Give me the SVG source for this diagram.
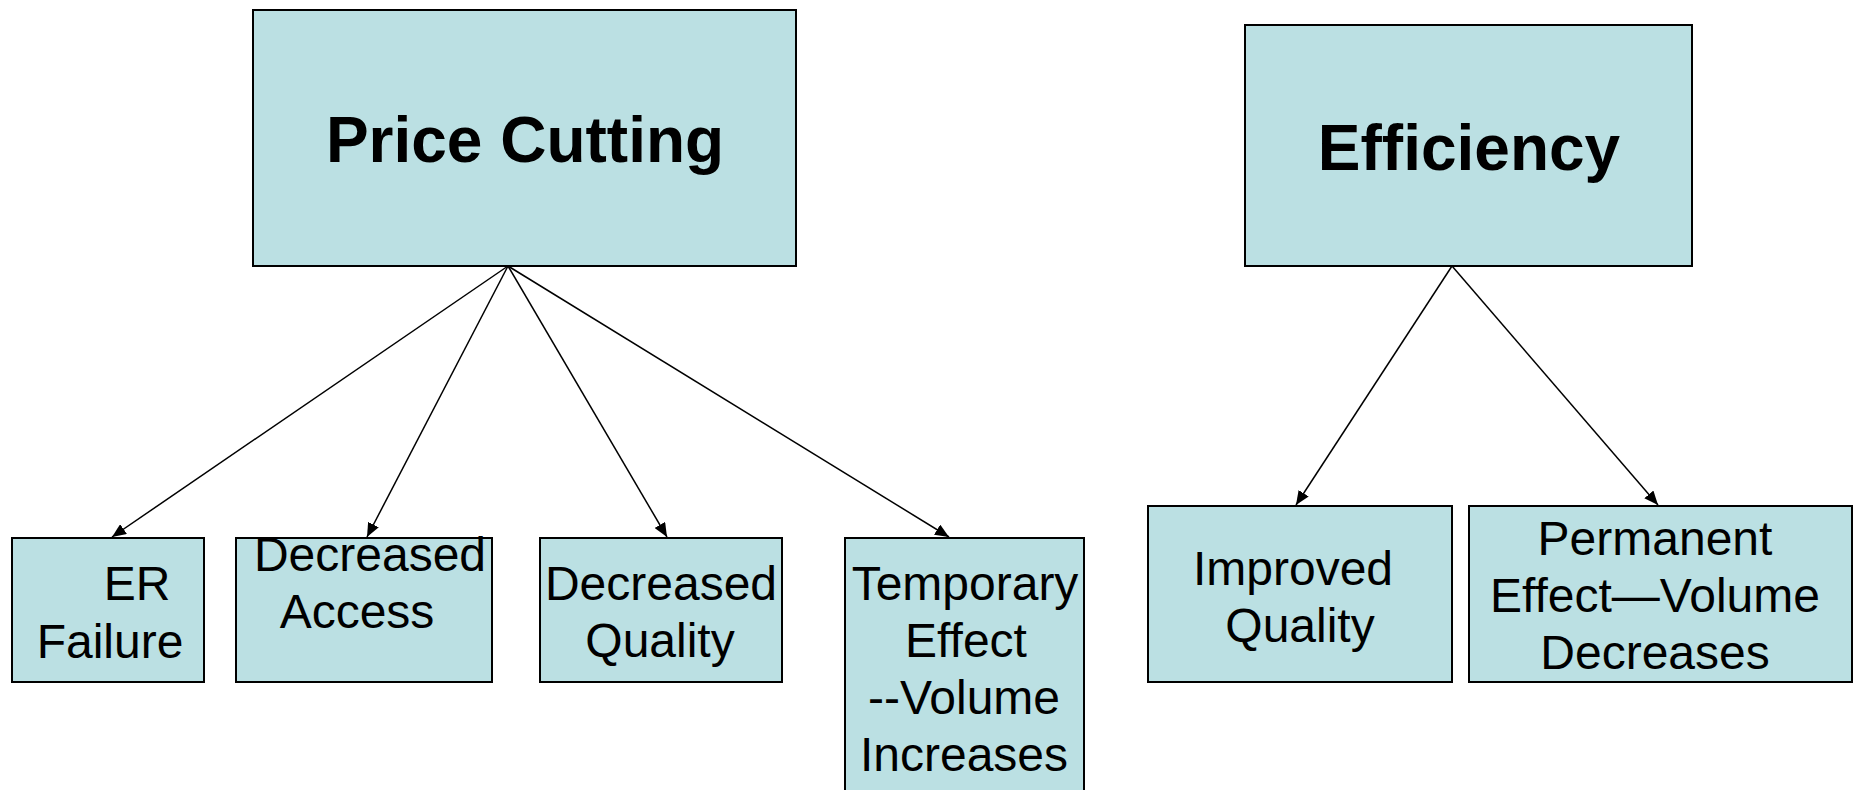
<svg xmlns="http://www.w3.org/2000/svg" width="1858" height="790" viewBox="0 0 1858 790">
<style>
.box{fill:#BBE0E3;stroke:#000;stroke-width:2}
.t{font-family:"Liberation Sans",Arial,sans-serif;font-size:48px;fill:#000;text-anchor:middle}
.h{font-family:"Liberation Sans",Arial,sans-serif;font-size:64px;font-weight:bold;fill:#000;text-anchor:middle}
.c{stroke:#000;stroke-width:1.5;fill:none;marker-end:url(#ah)}
</style>
<defs>
<marker id="ah" viewBox="0 0 14 12" refX="14" refY="6" markerWidth="14" markerHeight="12" markerUnits="userSpaceOnUse" orient="auto">
<path d="M0,0 L14,6 L0,12 z" fill="#000"/>
</marker>
</defs>
<rect width="1858" height="790" fill="#fff"/>
<g id="connectors">
<line class="c" x1="508" y1="266" x2="112" y2="537"/>
<line class="c" x1="508" y1="266" x2="367" y2="537"/>
<line class="c" x1="508" y1="266" x2="667" y2="537"/>
<line class="c" x1="508" y1="266" x2="949" y2="537"/>
<line class="c" x1="1452" y1="266" x2="1296" y2="505"/>
<line class="c" x1="1452" y1="266" x2="1658" y2="505"/>
</g>
<g id="price-cutting">
<rect class="box" x="253" y="10" width="543" height="256"/>
<text class="h" x="525" y="162">Price Cutting</text>
</g>
<g id="efficiency">
<rect class="box" x="1245" y="25" width="447" height="241"/>
<text class="h" x="1469" y="170">Efficiency</text>
</g>
<g id="er-failure">
<rect class="box" x="12" y="538" width="192" height="144"/>
<text class="t" x="137" y="600">ER</text>
<text class="t" x="110" y="658">Failure</text>
</g>
<g id="decreased-access">
<rect class="box" x="236" y="538" width="256" height="144"/>
<text class="t" x="370" y="571">Decreased</text>
<text class="t" x="357" y="628">Access</text>
</g>
<g id="decreased-quality">
<rect class="box" x="540" y="538" width="242" height="144"/>
<text class="t" x="661" y="600">Decreased</text>
<text class="t" x="660" y="657">Quality</text>
</g>
<g id="temporary-effect">
<rect class="box" x="845" y="538" width="239" height="270"/>
<text class="t" x="965" y="600">Temporary</text>
<text class="t" x="966" y="657">Effect</text>
<text class="t" x="964" y="714">--Volume</text>
<text class="t" x="964" y="771">Increases</text>
</g>
<g id="improved-quality">
<rect class="box" x="1148" y="506" width="304" height="176"/>
<text class="t" x="1293" y="585">Improved</text>
<text class="t" x="1300" y="642">Quality</text>
</g>
<g id="permanent-effect">
<rect class="box" x="1469" y="506" width="383" height="176"/>
<text class="t" x="1655" y="555">Permanent</text>
<text class="t" x="1655" y="612">Effect—Volume</text>
<text class="t" x="1655" y="669">Decreases</text>
</g>
</svg>
